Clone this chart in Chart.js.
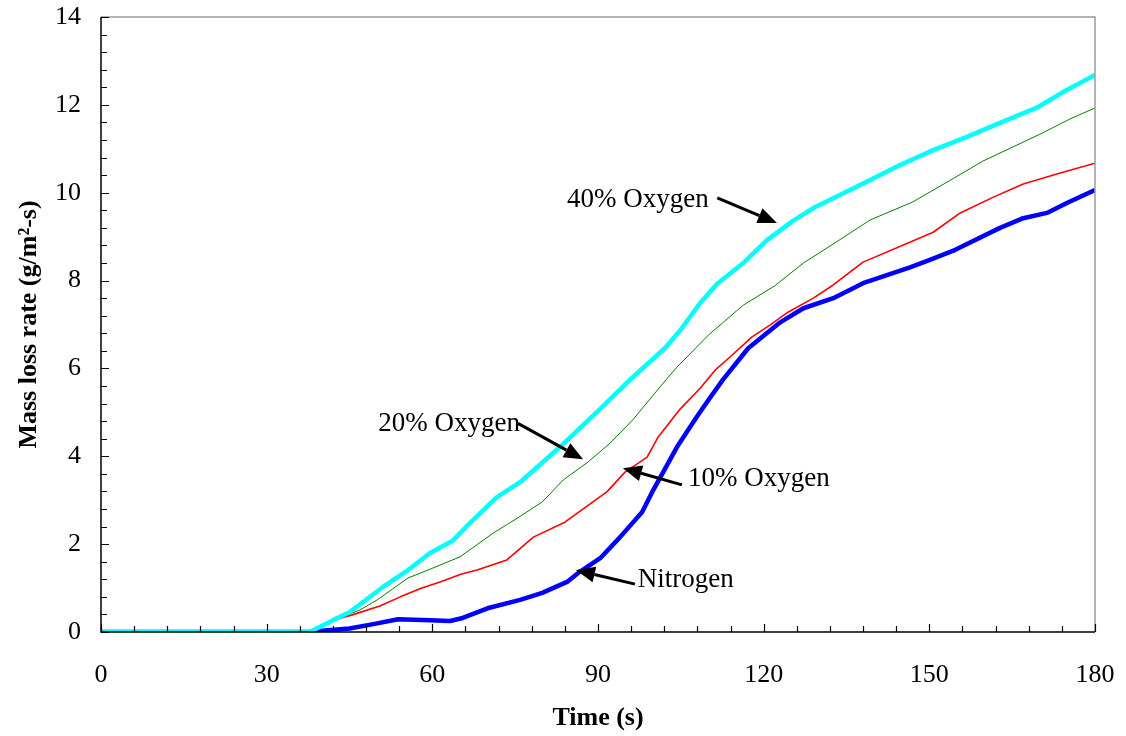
<!DOCTYPE html>
<html>
<head>
<meta charset="utf-8">
<script src="https://cdn.jsdelivr.net/npm/chart.js@4.4.1/dist/chart.umd.min.js"></script>
<style>
html,body{margin:0;padding:0;background:#fff;}
#wrap{width:1126px;height:736px;position:relative;}
</style>
</head>
<body>
<div id="wrap"><canvas id="c" width="1126" height="736"></canvas></div>
<script>
// ---- data ----
const xTicks = [0, 30, 60, 90, 120, 150, 180];
const yTicks = [0, 2, 4, 6, 8, 10, 12, 14];

const seriesNames = ["40% Oxygen", "20% Oxygen", "10% Oxygen", "Nitrogen"];

const t40 = [0, 20, 37.8, 42, 45, 51, 55.6, 59.6, 63.6, 66.8, 71.7, 75.9, 83.1, 90.4, 96.3, 102.1, 104.9, 108.5, 111.6, 116.3, 120.6, 125.3, 129, 133.8, 139.3, 144.7, 150.7, 156.8, 162.8, 169.7, 174.9, 180];
const v40 = [0, 0, 0, 0.27, 0.45, 1.02, 1.41, 1.8, 2.07, 2.48, 3.07, 3.41, 4.21, 5.08, 5.8, 6.46, 6.87, 7.49, 7.93, 8.4, 8.92, 9.36, 9.65, 9.95, 10.29, 10.63, 10.97, 11.27, 11.59, 11.95, 12.34, 12.68];

const t20 = [0, 20, 37.8, 42, 46.9, 50, 55.6, 59.2, 65, 71, 75.5, 79.9, 83.7, 88.2, 92.2, 96.3, 102.3, 104.3, 110, 116.3, 122, 127.2, 133.3, 139.3, 147, 153.2, 159.7, 170, 175.5, 180];
const v20 = [0, 0, 0, 0.27, 0.5, 0.73, 1.23, 1.41, 1.71, 2.25, 2.6, 2.96, 3.46, 3.87, 4.3, 4.83, 5.74, 6.03, 6.76, 7.44, 7.88, 8.4, 8.89, 9.38, 9.79, 10.24, 10.72, 11.33, 11.68, 11.93];

const t10 = [0, 20, 38.5, 42, 45.5, 50.5, 54.2, 58.1, 61.4, 65.3, 68.1, 73.5, 78.3, 84, 91.6, 94.9, 98.9, 100.9, 104.7, 108.5, 111.2, 113.9, 117.9, 121.2, 124.4, 129, 132.6, 138, 147, 150.7, 155.6, 161.6, 167, 173.7, 180];
const v10 = [0, 0, 0, 0.27, 0.39, 0.59, 0.8, 1.0, 1.14, 1.32, 1.41, 1.64, 2.16, 2.5, 3.19, 3.64, 3.98, 4.44, 5.05, 5.55, 5.96, 6.26, 6.72, 6.99, 7.28, 7.6, 7.9, 8.42, 8.9, 9.1, 9.54, 9.9, 10.2, 10.45, 10.67];

const tN = [0, 20, 38, 40, 45, 49.3, 53.8, 59.6, 63.2, 65.5, 70, 75.9, 79.9, 84.4, 86.7, 90.4, 94, 98, 100, 104.3, 107.9, 110, 112.6, 117.2, 123, 127.2, 132.6, 138, 146.5, 150.1, 154.7, 162.8, 167, 171.3, 175, 180];
const vN = [0, 0, 0, 0.03, 0.08, 0.18, 0.29, 0.27, 0.25, 0.32, 0.54, 0.73, 0.89, 1.14, 1.37, 1.68, 2.16, 2.73, 3.23, 4.21, 4.9, 5.28, 5.74, 6.46, 7.05, 7.37, 7.6, 7.94, 8.3, 8.47, 8.7, 9.2, 9.42, 9.54, 9.77, 10.06];

// annotation anchors in data coordinates: [text, textX, textY, arrowFromX, arrowFromY, arrowToX, arrowToY]
const notes = [
  ["40% Oxygen", 84.4, 9.83, 111.6, 9.88, 122.4, 9.31],
  ["20% Oxygen", 50.2, 4.74, 75.5, 4.75, 87.3, 3.93],
  ["10% Oxygen", 106.3, 3.48, 105.2, 3.35, 94.5, 3.73],
  ["Nitrogen",   97.2, 1.18, 96.7, 1.09, 86.0, 1.41]
];

const toPts = (t, v) => t.map((x, i) => ({x: x, y: v[i]}));

const SERIF = "'Liberation Serif', 'Times New Roman', serif";

const zeroPad = s => { s.paddingLeft = 0; s.paddingRight = 0; s.paddingTop = 0; s.paddingBottom = 0; };

const decorPlugin = {
  id: 'decor',
  afterDatasetsDraw(chart) {
    const {ctx, chartArea: a, scales: {x, y}} = chart;
    ctx.save();
    // frame
    ctx.strokeStyle = '#9a9a9a';
    ctx.lineWidth = 1.5;
    ctx.beginPath();
    ctx.moveTo(a.left, a.top); ctx.lineTo(a.right, a.top); ctx.lineTo(a.right, a.bottom);
    ctx.stroke();
    ctx.strokeStyle = '#000';
    ctx.lineWidth = 1.5;
    ctx.beginPath();
    ctx.moveTo(a.left, a.top); ctx.lineTo(a.left, a.bottom); ctx.lineTo(a.right, a.bottom);
    ctx.stroke();
    // ticks (inside)
    ctx.lineWidth = 1.2;
    ctx.beginPath();
    for (let v = x.min; v <= x.max + 1e-9; v += 6) {
      const px = Math.round(x.getPixelForValue(v)) + 0.5;
      const major = Math.abs(v % 30) < 1e-6;
      const len = major ? 8 : 6;
      ctx.moveTo(px, a.bottom); ctx.lineTo(px, a.bottom - len);
    }
    for (let i = 0; i <= 35; i++) {
      const v = i * 0.4;
      const py = Math.round(y.getPixelForValue(v)) + 0.5;
      const major = i % 5 === 0;
      const len = major ? 8 : 6;
      ctx.moveTo(a.left, py); ctx.lineTo(a.left + len, py);
    }
    ctx.stroke();
    // annotations
    ctx.fillStyle = '#000';
    ctx.font = '27px ' + SERIF;
    ctx.textBaseline = 'middle';
    ctx.textAlign = 'left';
    notes.forEach(n => {
      ctx.fillText(n[0], x.getPixelForValue(n[1]), y.getPixelForValue(n[2]));
      const x1 = x.getPixelForValue(n[3]), y1 = y.getPixelForValue(n[4]);
      const x2 = x.getPixelForValue(n[5]), y2 = y.getPixelForValue(n[6]);
      const ang = Math.atan2(y2 - y1, x2 - x1);
      const hl = 19, hw = 8;
      const bx = x2 - hl * Math.cos(ang), by = y2 - hl * Math.sin(ang);
      ctx.strokeStyle = '#000';
      ctx.lineWidth = 3;
      ctx.beginPath();
      ctx.moveTo(x1, y1); ctx.lineTo(bx, by);
      ctx.stroke();
      ctx.beginPath();
      ctx.moveTo(x2, y2);
      ctx.lineTo(bx + hw * Math.sin(ang), by - hw * Math.cos(ang));
      ctx.lineTo(bx - hw * Math.sin(ang), by + hw * Math.cos(ang));
      ctx.closePath();
      ctx.fill();
    });
    ctx.restore();
  }
};

new Chart(document.getElementById('c'), {
  type: 'line',
  data: {
    datasets: [
      {label: seriesNames[0], data: toPts(t40, v40), borderColor: '#00FFFF', borderWidth: 4.5},
      {label: seriesNames[1], data: toPts(t20, v20), borderColor: '#008000', borderWidth: 1},
      {label: seriesNames[2], data: toPts(t10, v10), borderColor: '#FF0000', borderWidth: 1.6},
      {label: seriesNames[3], data: toPts(tN, vN), borderColor: '#0000FF', borderWidth: 4.5}
    ]
  },
  options: {
    responsive: false,
    animation: false,
    devicePixelRatio: 1,
    layout: {padding: {left: 0, right: 31, top: 17, bottom: 0}},
    elements: {point: {radius: 0}, line: {tension: 0, borderJoinStyle: 'round', borderCapStyle: 'butt'}},
    plugins: {legend: {display: false}, tooltip: {enabled: false}},
    scales: {
      x: {
        type: 'linear', min: 0, max: 180,
        afterBuildTicks: s => { s.ticks = xTicks.map(v => ({value: v})); },
        afterFit: s => { s.height = 104; zeroPad(s); },
        grid: {display: false, drawTicks: false},
        border: {display: false},
        ticks: {color: '#000', padding: 28, maxRotation: 0, autoSkip: false, font: {family: SERIF, size: 26}},
        title: {display: true, text: 'Time (s)', color: '#000', padding: {top: 0, bottom: 2}, font: {family: SERIF, size: 26, weight: 'bold'}}
      },
      y: {
        type: 'linear', min: 0, max: 14,
        afterBuildTicks: s => { s.ticks = yTicks.map(v => ({value: v})); },
        afterFit: s => { s.width = 101; zeroPad(s); },
        grid: {display: false, drawTicks: false},
        border: {display: false},
        ticks: {color: '#000', padding: 20, autoSkip: false, font: {family: SERIF, size: 26}},
        title: {display: true, text: 'Mass loss rate (g/m²-s)', color: '#000', padding: {top: 14, bottom: 0}, font: {family: SERIF, size: 26, weight: 'bold'}}
      }
    }
  },
  plugins: [decorPlugin]
});
</script>
</body>
</html>
